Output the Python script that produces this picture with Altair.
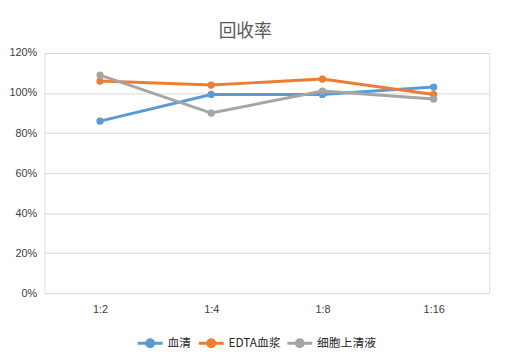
import altair as alt
import pandas as pd

categories = ["1:2", "1:4", "1:8", "1:16"]
series = ["血清", "EDTA血浆", "细胞上清液"]
serum = [0.86, 0.993, 0.993, 1.03]
edta = [1.06, 1.04, 1.07, 0.993]
supernatant = [1.09, 0.90, 1.01, 0.97]
colors = ["#5B9BD5", "#ED7D31", "#A5A5A5"]

rows = []
for name, vals in zip(series, [serum, edta, supernatant]):
    for c, v in zip(categories, vals):
        rows.append({"cat": c, "series": name, "value": v})
df = pd.DataFrame(rows)

font = "Liberation Sans"
cjk = "Noto Sans CJK SC"

x = alt.X("cat:N", sort=categories, title=None,
          scale=alt.Scale(paddingInner=0, paddingOuter=0.5),
          axis=alt.Axis(labelAngle=0, grid=False, domain=False, ticks=False,
                        labelPadding=11, labelFont=font, labelFontSize=11,
                        labelColor="#404040"))
y = alt.Y("value:Q", title=None,
          scale=alt.Scale(domain=[0, 1.2], nice=False),
          axis=alt.Axis(format=".0%", values=[0, 0.2, 0.4, 0.6, 0.8, 1.0, 1.2],
                        domain=False, ticks=False, gridColor="#D9D9D9",
                        labelPadding=8, labelFont=font, labelFontSize=11,
                        labelColor="#404040"))
color = alt.Color("series:N", sort=series,
                  scale=alt.Scale(domain=series, range=colors),
                  legend=alt.Legend(title=None, orient="none", direction="horizontal",
                                    legendX=93, legendY=280,
                                    symbolType="M-1,0H1M-0.28,0a0.28,0.28 0 1,0 0.56,0a0.28,0.28 0 1,0 -0.56,0",
                                    symbolSize=640, symbolStrokeWidth=3,
                                    labelFont=cjk, labelFontSize=12, labelColor="#262626",
                                    columnPadding=0, labelOffset=3))

base = alt.Chart(df).encode(x=x, y=y, color=color)
lines = base.mark_line(strokeWidth=3)
points = base.mark_point(filled=True, size=55, opacity=1)

chart = (lines + points).properties(
    width=452, height=244,
    title=alt.TitleParams("回收率", font=cjk, fontSize=18, fontWeight="normal",
                          color="#595959", offset=6, dx=-22),
    autosize=alt.AutoSizeParams(type="none"),
    padding={"left": 37, "top": 43, "right": 16, "bottom": 55},
).configure_view(stroke=None).configure(background="white")

chart.save("out.html", embed_options={"renderer": "svg", "actions": False})
